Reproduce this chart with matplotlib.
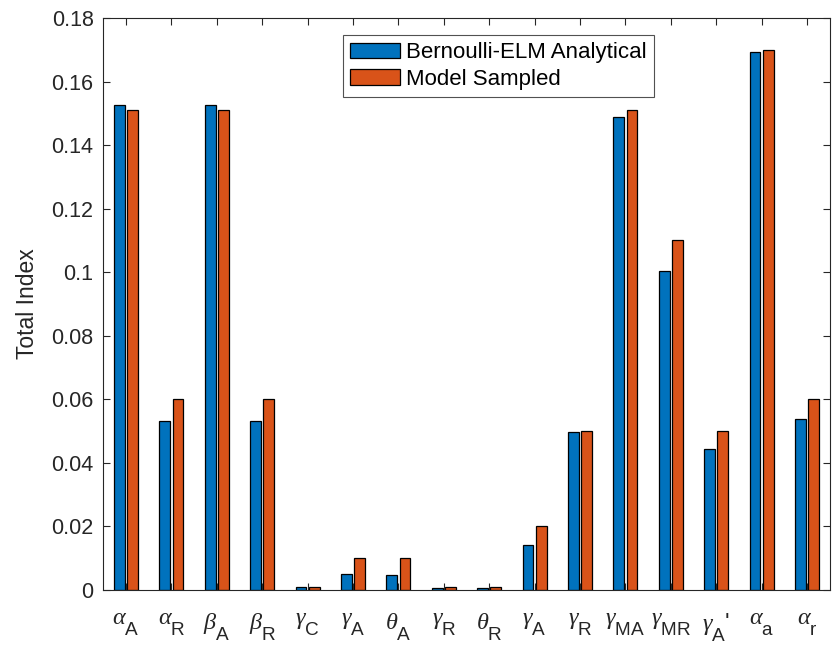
import matplotlib
matplotlib.use("Agg")
import matplotlib.pyplot as plt
import numpy as np

plt.rcParams['font.family'] = ['Liberation Sans', 'DejaVu Sans']
plt.rcParams['mathtext.fontset'] = 'custom'
plt.rcParams['mathtext.rm'] = 'Liberation Sans'
plt.rcParams['mathtext.it'] = 'Liberation Serif:italic'
plt.rcParams['mathtext.bf'] = 'Liberation Sans:bold'

# TeX-style tick labels: larger, lower subscripts
try:
    from matplotlib import _mathtext
    _mathtext.SHRINK_FACTOR = 0.78
    _mathtext.FontConstantsBase.sub1 = 1.0
except Exception:
    pass

labels = [r'$\alpha_{\mathrm{A}}$', r'$\alpha_{\mathrm{R}}$', r'$\beta_{\mathrm{A}}$',
          r'$\beta_{\mathrm{R}}$', r'$\gamma_{\mathrm{C}}$', r'$\gamma_{\mathrm{A}}$',
          r'$\theta_{\mathrm{A}}$', r'$\gamma_{\mathrm{R}}$', r'$\theta_{\mathrm{R}}$',
          r'$\gamma_{\mathrm{A}}$', r'$\gamma_{\mathrm{R}}$', r'$\gamma_{\mathrm{MA}}$',
          r'$\gamma_{\mathrm{MR}}$', r"$\gamma_{\mathrm{A}}$'", r'$\alpha_{\mathrm{a}}$',
          r'$\alpha_{\mathrm{r}}$']

analytical = [0.1525, 0.0532, 0.1527, 0.0533, 0.0010, 0.0050, 0.0047, 0.0005,
              0.0005, 0.0143, 0.0497, 0.1487, 0.1003, 0.0445, 0.1692, 0.0537]
sampled = [0.151, 0.060, 0.151, 0.060, 0.001, 0.010, 0.010, 0.001,
           0.001, 0.020, 0.050, 0.151, 0.110, 0.050, 0.170, 0.060]

ytick_labels = ['0', '0.02', '0.04', '0.06', '0.08', '0.1', '0.12', '0.14',
                '0.16', '0.18']

blue = '#0072BD'
orange = '#D95319'
ink = '#262626'

fig = plt.figure(figsize=(8.33, 6.49), dpi=100)
ax = fig.add_axes([0.1240, 0.0909, 0.8720, 0.8814])

x = np.arange(1, len(labels) + 1)
w = 0.24
off = 0.145
ax.bar(x - off, analytical, width=w, color=blue, edgecolor='black', linewidth=0.9,
       label='Bernoulli-ELM Analytical')
ax.bar(x + off, sampled, width=w, color=orange, edgecolor='black', linewidth=0.9,
       label='Model Sampled')

ax.set_xlim(0.5, len(labels) + 0.5)
ax.set_ylim(0, 0.18)
ax.set_yticks(np.linspace(0, 0.18, len(ytick_labels)))
ax.set_yticklabels(ytick_labels)
ax.set_xticks(x)
ax.set_xticklabels(labels)

ax.tick_params(axis='both', direction='in', top=True, right=True, length=5.3,
               width=0.8, color=ink, labelcolor=ink)
ax.tick_params(axis='y', labelsize=15.5, pad=7)
ax.tick_params(axis='x', labelsize=17.5, pad=15)
for s in ax.spines.values():
    s.set_color(ink)
    s.set_linewidth(0.8)

ax.set_ylabel('Total Index', fontsize=16.5, color=ink, labelpad=9)

leg = ax.legend(loc='upper left', bbox_to_anchor=(0.330, 0.970), fontsize=16,
                frameon=True, fancybox=False, edgecolor=ink,
                handlelength=2.25, handleheight=0.7, handletextpad=0.25,
                borderpad=0.33, labelspacing=0.25, borderaxespad=0)
leg.get_frame().set_linewidth(0.8)
for t in leg.get_texts():
    t.set_color('black')

fig.savefig('out.png', dpi=100)
